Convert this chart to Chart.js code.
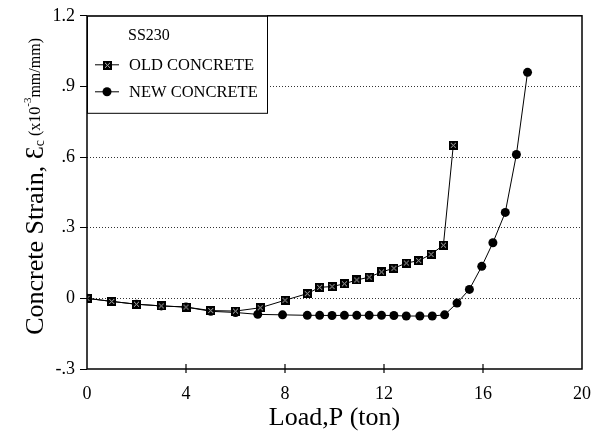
<!DOCTYPE html>
<html><head><meta charset="utf-8">
<script src="https://cdn.jsdelivr.net/npm/chart.js@4"></script>
<style>html,body{margin:0;padding:0;background:#fff}#wrap{width:606px;height:439px}</style>
</head><body><div id="wrap"><canvas id="c" width="606" height="439"></canvas></div>
<script>
const oldLoad   = [0, 1, 2, 3, 4, 5, 6, 7, 8, 8.9, 9.4, 9.9, 10.4, 10.9, 11.4, 11.9, 12.4, 12.9, 13.4, 13.9, 14.4, 14.8];
const oldStrain = [0, -0.013, -0.025, -0.032, -0.037, -0.052, -0.054, -0.04, -0.008, 0.02, 0.047, 0.05, 0.062, 0.078, 0.09, 0.112, 0.128, 0.15, 0.16, 0.187, 0.226, 0.65];
const newLoad   = [0, 1, 2, 3, 4, 5, 6, 6.9, 7.9, 8.9, 9.4, 9.9, 10.4, 10.9, 11.4, 11.9, 12.4, 12.9, 13.45, 13.95, 14.45, 14.95, 15.45, 15.95, 16.4, 16.9, 17.35, 17.8];
const newStrain = [0, -0.013, -0.025, -0.032, -0.037, -0.055, -0.06, -0.068, -0.07, -0.072, -0.072, -0.073, -0.072, -0.072, -0.072, -0.072, -0.073, -0.075, -0.075, -0.075, -0.07, -0.02, 0.038, 0.136, 0.236, 0.365, 0.611, 0.96];
const xTicks = [0, 4, 8, 12, 16, 20];
const yTicks = [-0.3, 0, 0.3, 0.6, 0.9, 1.2];
const yTickLabels = ['-.3', '0', '.3', '.6', '.9', '1.2'];
const legendTitle = 'SS230';
const seriesNames = ['OLD CONCRETE', 'NEW CONCRETE'];

const SERIF = '"Liberation Serif", "Times New Roman", serif';

// patterned square marker for old concrete
function makeSquare() {
  const s = 9, cv = document.createElement('canvas');
  cv.width = s; cv.height = s;
  const g = cv.getContext('2d');
  g.fillStyle = '#000'; g.fillRect(0, 0, s, s);
  g.fillStyle = '#bbb';
  const pts = [[2,2],[6,2],[4,4],[2,6],[6,6],[3,3],[5,5],[5,3],[3,5]];
  pts.forEach(p => g.fillRect(p[0], p[1], 1, 1));
  return cv;
}
const sq = makeSquare();

const toXY = (xs, ys) => xs.map((x, i) => ({x, y: ys[i]}));

const framePlugin = {
  id: 'frame',
  afterDatasetsDraw(chart) {
    const {ctx, chartArea: a, scales} = chart;
    ctx.save();
    ctx.strokeStyle = '#000'; ctx.lineWidth = 1.5; ctx.setLineDash([]);
    ctx.strokeRect(a.left, a.top, a.right - a.left, a.bottom - a.top);
    ctx.lineWidth = 1.2;
    xTicks.slice(1, -1).forEach(v => {
      const px = scales.x.getPixelForValue(v);
      ctx.beginPath(); ctx.moveTo(px, a.bottom - 5); ctx.lineTo(px, a.bottom + 4); ctx.stroke();
    });
    // legend box
    const lx = a.left, ly = a.top, lw = 180, lh = 97;
    ctx.fillStyle = '#fff';
    ctx.fillRect(lx, ly, lw, lh);
    ctx.lineWidth = 1;
    ctx.strokeRect(lx + 0.5, ly + 0.5, lw, lh);
    ctx.fillStyle = '#000';
    ctx.textBaseline = 'middle'; ctx.textAlign = 'left';
    ctx.font = '16px ' + SERIF;
    ctx.fillText(legendTitle, lx + 41, ly + 20);
    ctx.font = '16.5px ' + SERIF;
    const rows = [ly + 49, ly + 76];
    rows.forEach((ry, i) => {
      ctx.beginPath(); ctx.lineWidth = 1;
      ctx.moveTo(lx + 8, ry); ctx.lineTo(lx + 32, ry); ctx.stroke();
      if (i === 0) ctx.drawImage(sq, lx + 16, ry - 4);
      else { ctx.beginPath(); ctx.arc(lx + 20, ry, 4.5, 0, Math.PI * 2); ctx.fill(); }
      ctx.fillText(seriesNames[i], lx + 42, ry + 1);
    });
    ctx.restore();
  },
  afterDraw(chart) {
    const {ctx, chartArea: a} = chart;
    ctx.save();
    ctx.fillStyle = '#000';
    ctx.translate(28, (a.top + a.bottom) / 2 - 6);
    ctx.rotate(-Math.PI / 2);
    const segs = [
      {t: 'Concrete Strain, ', f: '26px ' + SERIF, dy: 0},
      {t: 'Ɛ', f: '26px ' + SERIF, dy: 0},
      {t: 'c', f: '14px ' + SERIF, dy: 4},
      {t: ' (x10', f: '16px ' + SERIF, dy: 0},
      {t: '-3', f: '11px ' + SERIF, dy: -8},
      {t: 'mm/mm)', f: '16px ' + SERIF, dy: 0}
    ];
    let total = 0;
    segs.forEach(s => { ctx.font = s.f; s.w = ctx.measureText(s.t).width; total += s.w; });
    let x = -total / 2;
    ctx.textBaseline = 'middle';
    segs.forEach(s => { ctx.font = s.f; ctx.fillText(s.t, x, 8 + s.dy); x += s.w; });
    ctx.restore();
  }
};

new Chart(document.getElementById('c'), {
  type: 'scatter',
  data: {
    datasets: [
      {
        label: seriesNames[0], data: toXY(oldLoad, oldStrain), showLine: true,
        borderColor: '#000', borderWidth: 1, pointStyle: sq, pointRadius: 4.5,
        backgroundColor: '#000', order: 1
      },
      {
        label: seriesNames[1], data: toXY(newLoad, newStrain), showLine: true,
        borderColor: '#000', borderWidth: 1, pointStyle: 'circle', pointRadius: 4.5,
        backgroundColor: '#000', pointBorderWidth: 0, order: 2
      }
    ]
  },
  options: {
    responsive: false, animation: false,
    layout: {padding: {top: 13, right: 24, left: 0, bottom: 0}},
    plugins: {legend: {display: false}, tooltip: {enabled: false}},
    scales: {
      x: {
        type: 'linear', min: 0, max: 20,
        afterFit(s) { s.height = 70; },
        afterBuildTicks(s) { s.ticks = xTicks.map(v => ({value: v})); },
        grid: {display: false},
        border: {display: false},
        ticks: {color: '#000', font: {family: SERIF, size: 18}, padding: 6, maxRotation: 0},
        title: {display: true, text: 'Load,P (ton)', color: '#000', font: {family: SERIF, size: 26}, padding: {top: 0, bottom: 5}}
      },
      y: {
        type: 'linear', min: -0.3, max: 1.2,
        afterFit(s) { s.width = 87; },
        afterBuildTicks(s) { s.ticks = yTicks.map(v => ({value: v})); },
        grid: {
          color: ctx => (ctx.tick && (ctx.tick.value === -0.3 || ctx.tick.value === 1.2)) ? 'rgba(0,0,0,0)' : '#333',
          lineWidth: 1, tickColor: '#000', tickLength: 7, drawTicks: true
        },
        border: {display: false, dash: [1, 2]},
        ticks: {
          color: '#000', font: {family: SERIF, size: 18}, padding: 5,
          callback: (v) => { const i = yTicks.findIndex(t => Math.abs(t - v) < 1e-9); return i >= 0 ? yTickLabels[i] : ''; }
        }
      }
    }
  },
  plugins: [framePlugin]
});
</script></body></html>
